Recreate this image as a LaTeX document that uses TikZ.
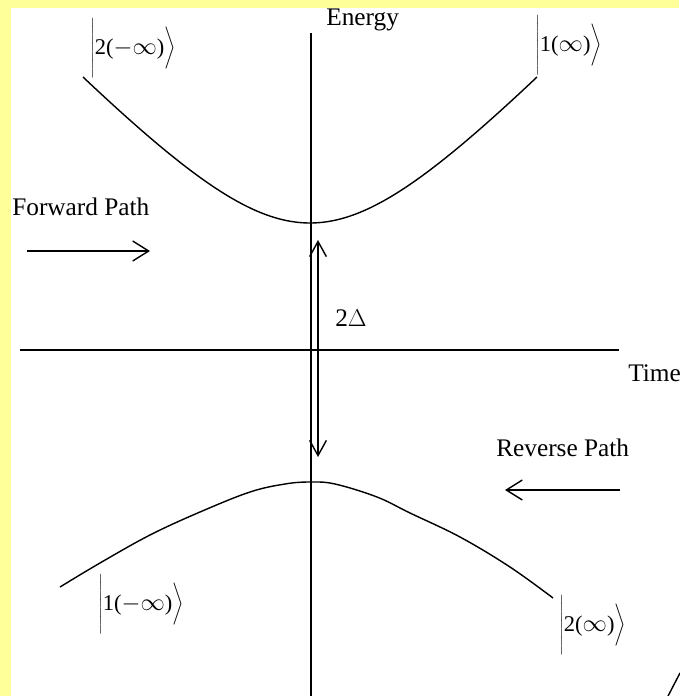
\documentclass[tikz,border=0pt]{standalone}
\usepackage{fontspec}
\setmainfont{Liberation Serif}
\usepackage{tikz}
\usetikzlibrary{
  arrows.meta,
  positioning
}
\definecolor{pageyellow}{RGB}{255,255,153}

\begin{document}
\begin{tikzpicture}[
  x=0.025cm, y=-0.025cm,
  lbl/.style ={font=\fontsize{18}{20}\selectfont,inner sep=0pt,anchor=west},
  ket/.style ={font=\fontsize{16}{18}\selectfont,inner sep=0pt,anchor=west},
  axis/.style={line width=1pt},
  level/.style={line width=1pt},
  arr/.style ={-{Straight Barb[length=0.4cm,width=0.5cm]},line width=1pt},
  gap/.style ={{Straight Barb[length=0.38cm,width=0.42cm]}-{Straight Barb[length=0.38cm,width=0.42cm]},line width=1pt},
]
\fill[pageyellow] (0,0) rectangle (679,696);
\fill[white] (11,8) rectangle (679,696);
\useasboundingbox (0,0) rectangle (679,696);

% axes
\coordinate (etop)   at (311,33);
\coordinate (ebot)   at (311,700);
\coordinate (tleft)  at (20,350);
\coordinate (tright) at (619,350);
\draw[axis] (etop) -- (ebot);
\draw[axis] (tleft) -- (tright);
\node[lbl] (energy) at (326,20)  {Energy};
\node[lbl] (time)   at (628,373) {Time};

% the two levels
\draw[level] plot[domain=83:537,samples=80,smooth]
  (\x,{223-100*(sqrt(1.29*1.29+1.1446*((\x-310)/100)^2)-1.29)});
\draw[level] plot[smooth,tension=0.6] coordinates {(60,587) (100,563) (150,535)
  (200,512) (250,492) (285,484) (310,482) (335,484) (377,497) (410,513)
  (460,537) (510,567) (553,598)};

% states
\node[ket] (up2m) at (90,48)
  {$\left|\rule[-0.6cm]{0pt}{1.5cm}\textrm{2(}{-}\infty\textrm{)}\right\rangle$};
\node[ket] (up1p) at (535,45)
  {$\left|\rule[-0.6cm]{0pt}{1.5cm}\textrm{1(}\infty\textrm{)}\right\rangle$};
\node[ket] (lo1m) at (98,604)
  {$\left|\rule[-0.6cm]{0pt}{1.5cm}\textrm{1(}{-}\infty\textrm{)}\right\rangle$};
\node[ket] (lo2p) at (559,625)
  {$\left|\rule[-0.6cm]{0pt}{1.5cm}\textrm{2(}\infty\textrm{)}\right\rangle$};

% splitting
\coordinate (gtop) at (318,240);
\coordinate (gbot) at (318,457);
\draw[gap] (gtop) -- (gbot);
\node[lbl] (delta) at (335,318) {2$\Delta$};

% paths
\node[lbl] (fwd) at (12,207)  {Forward Path};
\node[lbl] (rev) at (496,448) {Reverse Path};
\coordinate (fwa) at (27,251);
\coordinate (fwb) at (150,251);
\coordinate (rva) at (620,490);
\coordinate (rvb) at (505,490);
\draw[arr] (fwa) -- (fwb);
\draw[arr] (rva) -- (rvb);

\draw[line width=1pt] (667,698) -- (680,673);
\end{tikzpicture}
\end{document}
